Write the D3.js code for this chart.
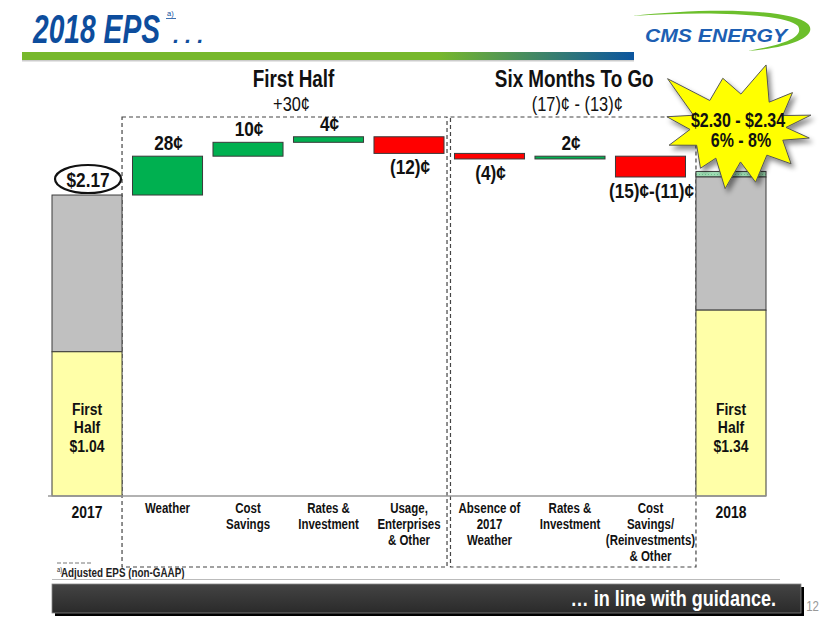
<!DOCTYPE html>
<html><head><meta charset="utf-8">
<script src="https://cdn.jsdelivr.net/npm/d3@7"></script>
<style>
html,body{margin:0;padding:0;background:#fff;}
svg{display:block;}
</style></head>
<body>
<svg id="chart" width="830" height="623"></svg>
<script>
// ---------- data ----------
const categories = ["2017","Weather","Cost\nSavings","Rates &\nInvestment","Usage,\nEnterprises\n& Other","Absence of\n2017\nWeather","Rates &\nInvestment","Cost\nSavings/\n(Reinvestments)\n& Other","2018"];
const eps2017 = 2.17;
const firstHalf2017 = 1.04;
const deltas = [0.28, 0.10, 0.04, -0.12, -0.04, 0.02, -0.15];
const deltaLabels = ["28¢","10¢","4¢","(12)¢","(4)¢","2¢","(15)¢-(11)¢"];
const eps2018Low = 2.30;
const eps2018High = 2.34;
const firstHalf2018 = 1.34;
const groupTitles = ["First Half","Six Months To Go"];
const groupSubtitles = ["+30¢","(17)¢ - (13)¢"];
const guidanceLines = ["$2.30 - $2.34","6% - 8%"];

// ---------- setup ----------
const FONT = "'Liberation Sans',Arial,sans-serif";
const SX = 0.82; // horizontal condensing to mimic Arial Narrow
const svg = d3.select("#chart");
const defs = svg.append("defs");

const idx = categories.map((c,i) => i);
const x = d3.scaleBand().domain(idx).range([52, 766]).paddingInner(0.13).paddingOuter(0);
const y = d3.scaleLinear().domain([0, 3]).range([496, 79.9]);
const bw = x.bandwidth();

// narrow text helper
function ntext(parent, px, py, lines, o) {
  o = o || {};
  const g = parent.append("g").attr("transform", `translate(${px},${py}) scale(${o.sx || SX},1)`);
  const t = g.append("text").attr("text-anchor", o.anchor || "middle").attr("font-family", FONT)
    .attr("font-weight", o.weight || "bold").attr("font-size", o.size || 14).attr("fill", o.fill || "#111");
  if (o.italic) t.attr("font-style","italic");
  [].concat(lines).forEach((ln,i) => t.append("tspan").attr("x", (o.dx && o.dx[i]) || 0).attr("y", i*(o.lh || 16)).text(ln));
  return t;
}

// gradients / filters
const hg = defs.append("linearGradient").attr("id","hdr").attr("x1","0").attr("x2","1");
hg.append("stop").attr("offset","0").attr("stop-color","#77b82c");
hg.append("stop").attr("offset","0.68").attr("stop-color","#77b82c");
hg.append("stop").attr("offset","1").attr("stop-color","#0b559f");
const bg = defs.append("linearGradient").attr("id","ban").attr("x1","0").attr("x2","0").attr("y1","0").attr("y2","1");
bg.append("stop").attr("offset","0").attr("stop-color","#444");
bg.append("stop").attr("offset","1").attr("stop-color","#2a2a2a");
const sh = defs.append("filter").attr("id","shadow").attr("x","-20%").attr("y","-20%").attr("width","150%").attr("height","150%");
sh.append("feDropShadow").attr("dx",3).attr("dy",4).attr("stdDeviation",2.5).attr("flood-color","#000").attr("flood-opacity",0.45);
const pat = defs.append("pattern").attr("id","hatch").attr("width",3).attr("height",3).attr("patternUnits","userSpaceOnUse");
pat.append("rect").attr("width",3).attr("height",3).attr("fill","#9edcb4");
pat.append("rect").attr("width",1).attr("height",1).attr("fill","#6cc08c");

// ---------- header ----------
svg.append("text").attr("x",33).attr("y",43)
  .attr("font-family",FONT).attr("font-weight","bold").attr("font-style","italic")
  .attr("font-size",40).attr("fill","#0d4d9d")
  .attr("textLength",127).attr("lengthAdjust","spacingAndGlyphs").text("2018 EPS");
svg.append("text").attr("x",167).attr("y",16).attr("font-family",FONT)
  .attr("font-size",7.5).attr("fill","#0d4d9d").text("a)");
svg.append("line").attr("x1",166).attr("x2",176).attr("y1",18.5).attr("y2",18.5).attr("stroke","#0d4d9d").attr("stroke-width",0.8);
svg.append("text").attr("x",173).attr("y",43)
  .attr("font-family",FONT).attr("font-weight","bold").attr("font-style","italic")
  .attr("font-size",22).attr("fill","#0d4d9d").attr("letter-spacing",6).text("...");
svg.append("rect").attr("x",22).attr("y",52).attr("width",612).attr("height",8).attr("fill","url(#hdr)");
svg.append("rect").attr("x",22).attr("y",60).attr("width",612).attr("height",1.5).attr("fill","#ccc");

// logo
svg.append("path")
  .attr("d","M632,16 C700,8 790,8 808,24 C818,35 795,47 748,51 C788,44 804,36 798,26 C786,13 700,11 632,16 Z")
  .attr("fill","#6cbf2c");
svg.append("text").attr("x",645).attr("y",42)
  .attr("font-family",FONT).attr("font-weight","bold").attr("font-style","italic")
  .attr("font-size",19).attr("fill","#1d5fb3")
  .attr("textLength",142).attr("lengthAdjust","spacingAndGlyphs").text("CMS ENERGY");

// ---------- group boxes ----------
const dash = "4,3";
const box1 = {x0: x(0) + bw, x1: x(4) + bw + 3};
const box2 = {x0: x(5) - 4, x1: x(8)};
const boxTop = 117, boxBot = 567;
[box1, box2].forEach(b => {
  svg.append("rect").attr("x",b.x0).attr("y",boxTop).attr("width",b.x1-b.x0).attr("height",boxBot-boxTop)
    .attr("fill","none").attr("stroke","#444").attr("stroke-width",1.2).attr("stroke-dasharray",dash);
});
[box1, box2].forEach((b,i) => {
  const cx = (b.x0 + b.x1)/2 + (i===0 ? 9 : 1);
  ntext(svg, cx, 87, groupTitles[i], {size: 23});
  ntext(svg, cx + (i===0 ? -2 : 3), 111, groupSubtitles[i], {size: 20, weight: "normal"});
});

// ---------- bars ----------
const barStroke = "#3a3a3a";
// 2017
svg.append("rect").attr("x",x(0)).attr("y",y(eps2017)).attr("width",bw).attr("height",y(firstHalf2017)-y(eps2017))
  .attr("fill","#c0c0c0").attr("stroke",barStroke).attr("stroke-width",1);
svg.append("rect").attr("x",x(0)).attr("y",y(firstHalf2017)).attr("width",bw).attr("height",y(0)-y(firstHalf2017))
  .attr("fill","#ffffa8").attr("stroke",barStroke).attr("stroke-width",1);

// waterfall deltas
let run = eps2017;
const steps = deltas.map((d,i) => { const s = {i: i+1, from: run, to: run + d, d, label: deltaLabels[i]}; run += d; return s; });
svg.selectAll("rect.delta").data(steps).join("rect").attr("class","delta")
  .attr("x", s => x(s.i)).attr("width", bw)
  .attr("y", s => y(Math.max(s.from, s.to)))
  .attr("height", s => Math.abs(y(s.from) - y(s.to)))
  .attr("fill", s => s.d >= 0 ? "#00b050" : "#ff0000")
  .attr("stroke", barStroke).attr("stroke-width",1);
steps.forEach(s => {
  const ly = s.d >= 0 ? y(Math.max(s.from,s.to)) - 6 : y(Math.min(s.from,s.to)) + 21;
  ntext(svg, x(s.i) + bw/2 + 1, ly, s.label, {size: 21});
});

// 2018
svg.append("rect").attr("x",x(8)).attr("y",y(eps2018High)).attr("width",bw).attr("height",y(eps2018Low)-y(eps2018High))
  .attr("fill","url(#hatch)").attr("stroke",barStroke).attr("stroke-width",1);
svg.append("rect").attr("x",x(8)).attr("y",y(eps2018Low)).attr("width",bw).attr("height",y(firstHalf2018)-y(eps2018Low))
  .attr("fill","#c0c0c0").attr("stroke",barStroke).attr("stroke-width",1);
svg.append("rect").attr("x",x(8)).attr("y",y(firstHalf2018)).attr("width",bw).attr("height",y(0)-y(firstHalf2018))
  .attr("fill","#ffffa8").attr("stroke",barStroke).attr("stroke-width",1);

// first-half labels
[[0, firstHalf2017],[8, firstHalf2018]].forEach(([c,v]) => {
  ntext(svg, x(c) + bw/2, 415, ["First","Half","$" + v.toFixed(2)], {size: 17, lh: 18.5});
});

// $2.17 ellipse
svg.append("ellipse").attr("cx",x(0) + bw/2 + 1).attr("cy",y(eps2017) - 16).attr("rx",33).attr("ry",14)
  .attr("fill","#fff").attr("stroke","#111").attr("stroke-width",2.2);
ntext(svg, x(0) + bw/2 + 1, y(eps2017) - 8.5, "$" + eps2017.toFixed(2), {size: 21});

// baseline axis
svg.append("line").attr("x1",48).attr("x2",766).attr("y1",y(0)).attr("y2",y(0)).attr("stroke","#999").attr("stroke-width",1.5);

// category labels
categories.forEach((c,i) => {
  const big = (i===0 || i===8);
  ntext(svg, x(i) + bw/2, big ? 518 : 513, c.split("\n"), {size: big ? 17 : 14, lh: 16});
});

// ---------- starburst ----------
const starTips = [
  {a:-145, r:86},{a:-107, r:52},{a:-66, r:69},{a:-33, r:65},{a:-10, r:74},{a:8, r:72},
  {a:34, r:64},{a:72, r:57},{a:102, r:62},{a:133, r:55},{a:166, r:71},{a:189, r:72}
];
const scx = 738, scy = 128;
const pts = [];
starTips.forEach((t,i) => {
  const a = t.a*Math.PI/180;
  pts.push([scx + t.r*Math.cos(a), scy + t.r*Math.sin(a)]);
  const n = starTips[(i+1)%starTips.length];
  let a2 = n.a; if (a2 < t.a) a2 += 360;
  const am = ((t.a + a2)/2)*Math.PI/180;
  pts.push([scx + 48*Math.cos(am), scy + 34*Math.sin(am)]);
});
svg.append("path").attr("d", d3.line()(pts) + "Z")
  .attr("fill","#ffff00").attr("stroke","#555").attr("stroke-width",1).attr("filter","url(#shadow)");
ntext(svg, 738, 127, guidanceLines[0], {size: 19.5});
ntext(svg, 741, 147, guidanceLines[1], {size: 19.5});

// ---------- footnote ----------
svg.append("line").attr("x1",57).attr("x2",93).attr("y1",563).attr("y2",563).attr("stroke","#777").attr("stroke-width",1).attr("stroke-dasharray","4,2");
ntext(svg, 57, 572, "a)", {size: 7, weight: "normal", anchor: "start", fill: "#222"});
ntext(svg, 61, 577, "Adjusted EPS (non-GAAP)", {size: 12, anchor: "start", fill: "#222"});
svg.append("line").attr("x1",52).attr("x2",780).attr("y1",579.5).attr("y2",579.5).attr("stroke","#bbb").attr("stroke-width",1);

// ---------- banner ----------
svg.append("rect").attr("x",55).attr("y",587).attr("width",749).attr("height",29).attr("fill","#000");
svg.append("rect").attr("x",52).attr("y",584).attr("width",749).attr("height",29).attr("fill","url(#ban)").attr("stroke","#888").attr("stroke-width",0.8);
ntext(svg, 776, 606, "\u2026 in line with guidance.", {size: 22, anchor: "end", fill: "#fff"});
ntext(svg, 819, 611, "12", {size: 14, anchor: "end", weight: "normal", fill: "#999"});
</script>
</body></html>
